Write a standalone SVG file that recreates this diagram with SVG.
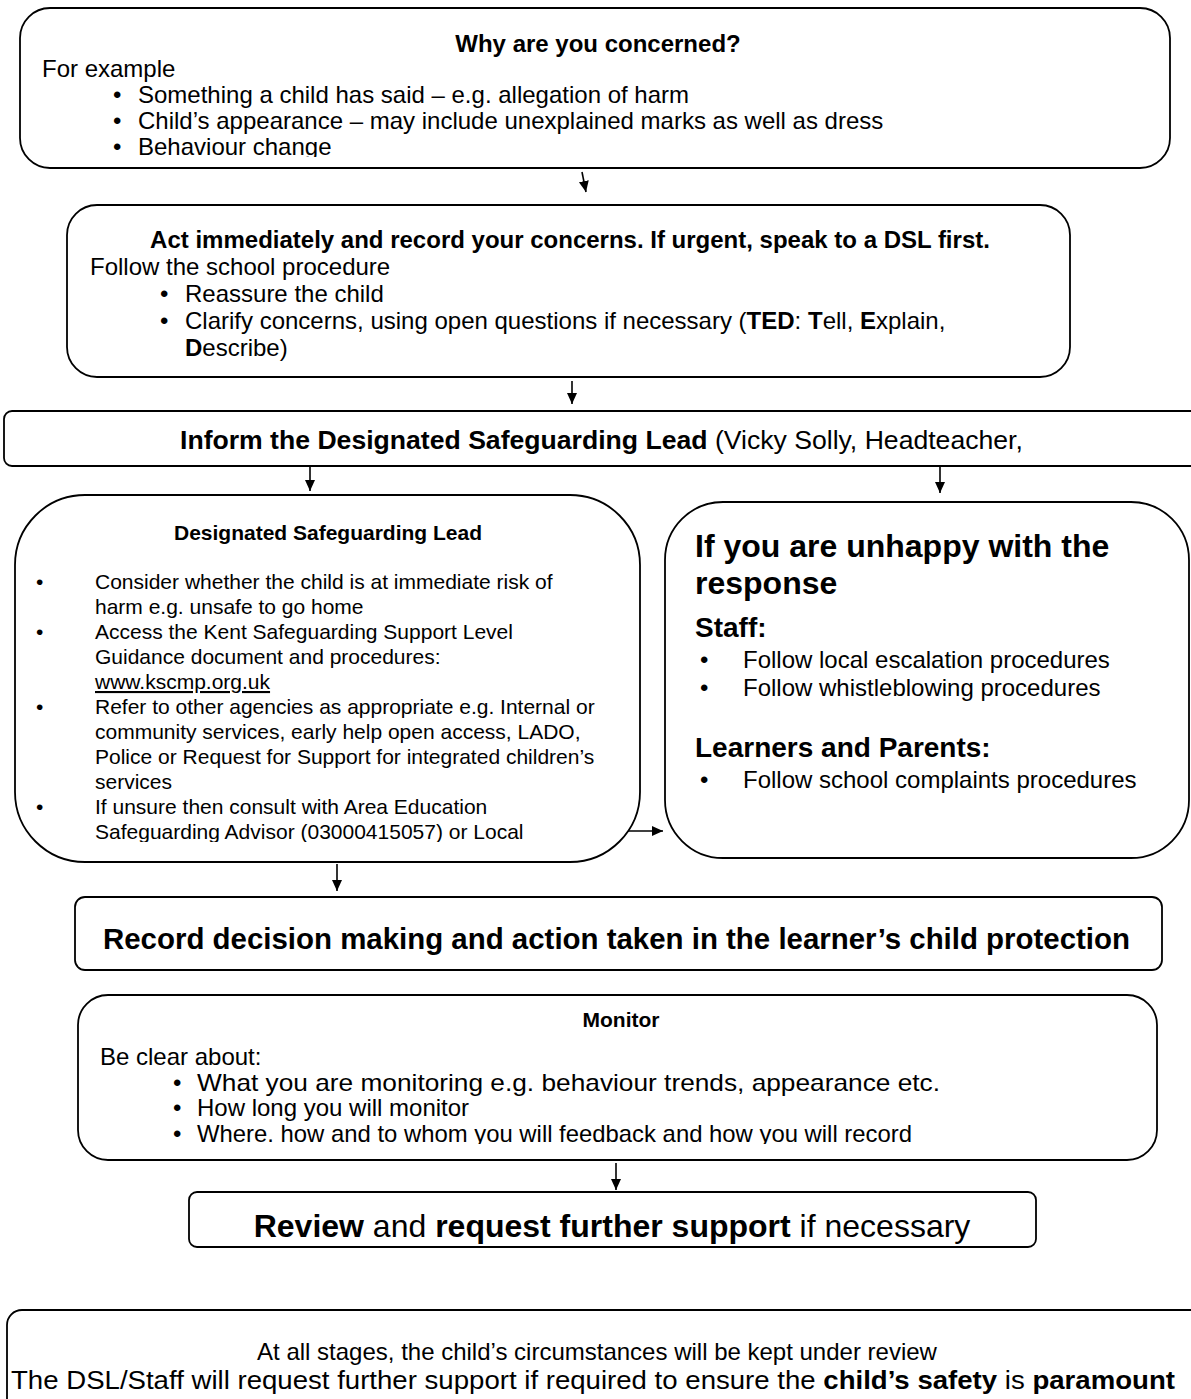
<svg xmlns="http://www.w3.org/2000/svg" width="1191" height="1399" viewBox="0 0 1191 1399">
<style>
.box{fill:#fff;stroke:#000;stroke-width:1.8}
text{font-family:"Liberation Sans",Arial,sans-serif;fill:#000}
.b{font-weight:bold}
.s24{font-size:24px}
.s21{font-size:21px}
.conn line{stroke:#000;stroke-width:1.6;marker-end:url(#ah)}
</style>
<defs>
<marker id="ah" markerWidth="12" markerHeight="12" refX="11" refY="5" orient="auto" markerUnits="userSpaceOnUse"><path d="M0,0 L11,5 L0,10 z" fill="#000"/></marker>
<clipPath id="c1"><rect x="0" y="0" width="1191" height="157"/></clipPath>
<clipPath id="c2"><rect x="0" y="200" width="1191" height="162"/></clipPath>
<clipPath id="c3"><rect x="0" y="490" width="660" height="352"/></clipPath>
<clipPath id="c4"><rect x="0" y="990" width="1191" height="154"/></clipPath>
</defs>

<g id="connectors" class="conn">
<line x1="582" y1="172" x2="586" y2="192"/>
<line x1="572" y1="381" x2="572" y2="404"/>
<line x1="310" y1="467" x2="310" y2="491"/>
<line x1="940" y1="467" x2="940" y2="493"/>
<line x1="620" y1="831" x2="663" y2="831"/>
<line x1="337" y1="864" x2="337" y2="891"/>
<line x1="616" y1="1163" x2="616" y2="1190"/>
</g>

<g id="concerned">
<rect class="box" x="20" y="8" width="1150" height="160" rx="30"/>
<text class="b s24" x="598" y="52" text-anchor="middle">Why are you concerned?</text>
<g clip-path="url(#c1)">
<text class="s24" x="42" y="77">For example</text>
<text class="s24" x="113" y="103">•</text><text class="s24" x="138" y="103">Something a child has said – e.g. allegation of harm</text>
<text class="s24" x="113" y="129">•</text><text class="s24" x="138" y="129">Child’s appearance – may include unexplained marks as well as dress</text>
<text class="s24" x="113" y="155">•</text><text class="s24" x="138" y="155">Behaviour change</text>
</g>
</g>

<g id="act">
<rect class="box" x="67" y="205" width="1003" height="172" rx="30"/>
<g clip-path="url(#c2)">
<text class="b s24" x="570" y="248" text-anchor="middle">Act immediately and record your concerns. If urgent, speak to a DSL first.</text>
<text class="s24" x="90" y="275">Follow the school procedure</text>
<text class="s24" x="160" y="302">•</text><text class="s24" x="185" y="302">Reassure the child</text>
<text class="s24" x="160" y="329">•</text><text class="s24" x="185" y="329">Clarify concerns, using open questions if necessary (<tspan class="b">TED</tspan>: <tspan class="b">T</tspan>ell, <tspan class="b">E</tspan>xplain,</text>
<text class="s24" x="185" y="356"><tspan class="b">D</tspan>escribe)</text>
</g>
</g>

<g id="inform">
<rect class="box" x="4" y="411" width="1200" height="55" rx="8"/>
<text x="180" y="449" style="font-size:26.6px"><tspan class="b">Inform the Designated Safeguarding Lead</tspan> (Vicky Solly, Headteacher,</text>
</g>

<g id="dsl">
<rect class="box" x="15" y="495" width="625" height="367" rx="70"/>
<text class="b s21" x="328" y="540" text-anchor="middle">Designated Safeguarding Lead</text>
<g clip-path="url(#c3)">
<text class="s21" x="36" y="589">•</text><text class="s21" x="95" y="589">Consider whether the child is at immediate risk of</text>
<text class="s21" x="95" y="614">harm e.g. unsafe to go home</text>
<text class="s21" x="36" y="639">•</text><text class="s21" x="95" y="639">Access the Kent Safeguarding Support Level</text>
<text class="s21" x="95" y="664">Guidance document and procedures:</text>
<text class="s21" x="95" y="689" text-decoration="underline">www.kscmp.org.uk</text>
<text class="s21" x="36" y="714">•</text><text class="s21" x="95" y="714">Refer to other agencies as appropriate e.g. Internal or</text>
<text class="s21" x="95" y="739">community services, early help open access, LADO,</text>
<text class="s21" x="95" y="764">Police or Request for Support for integrated children’s</text>
<text class="s21" x="95" y="789">services</text>
<text class="s21" x="36" y="814">•</text><text class="s21" x="95" y="814">If unsure then consult with Area Education</text>
<text class="s21" x="95" y="839">Safeguarding Advisor (03000415057) or Local</text>
</g>
</g>

<g id="unhappy">
<rect class="box" x="665" y="502" width="524" height="356" rx="58"/>
<text class="b" x="695" y="557" style="font-size:32px">If you are unhappy with the</text>
<text class="b" x="695" y="594" style="font-size:32px">response</text>
<text class="b" x="695" y="637" style="font-size:28px">Staff:</text>
<text class="s24" x="700" y="668">•</text><text class="s24" x="743" y="668">Follow local escalation procedures</text>
<text class="s24" x="700" y="696">•</text><text class="s24" x="743" y="696">Follow whistleblowing procedures</text>
<text class="b" x="695" y="757" style="font-size:28px">Learners and Parents:</text>
<text class="s24" x="700" y="788">•</text><text class="s24" x="743" y="788">Follow school complaints procedures</text>
</g>

<g id="record">
<rect class="box" x="75" y="897" width="1087" height="73" rx="10"/>
<text class="b" x="103" y="949" textLength="1027" lengthAdjust="spacingAndGlyphs" style="font-size:29.5px">Record decision making and action taken in the learner’s child protection</text>
</g>

<g id="monitor">
<rect class="box" x="78" y="995" width="1079" height="165" rx="30"/>
<text class="b s21" x="621" y="1027" text-anchor="middle">Monitor</text>
<g clip-path="url(#c4)">
<text class="s24" x="100" y="1065">Be clear about:</text>
<text class="s24" x="173" y="1091">•</text><text class="s24" x="197" y="1091" textLength="743" lengthAdjust="spacingAndGlyphs">What you are monitoring e.g. behaviour trends, appearance etc.</text>
<text class="s24" x="173" y="1116">•</text><text class="s24" x="197" y="1116">How long you will monitor</text>
<text class="s24" x="173" y="1142">•</text><text class="s24" x="197" y="1142" textLength="715" lengthAdjust="spacingAndGlyphs">Where. how and to whom you will feedback and how you will record</text>
</g>
</g>

<g id="review">
<rect class="box" x="189" y="1192" width="847" height="55" rx="8"/>
<text x="612" y="1237" text-anchor="middle" style="font-size:32px"><tspan class="b">Review</tspan> and <tspan class="b">request further support</tspan> if necessary</text>
</g>

<g id="stages">
<rect class="box" x="7" y="1310" width="1200" height="110" rx="15"/>
<text class="s24" x="597" y="1360" text-anchor="middle">At all stages, the child’s circumstances will be kept under review</text>
<text x="11" y="1389" textLength="1164" lengthAdjust="spacingAndGlyphs" style="font-size:25px">The DSL/Staff will request further support if required to ensure the <tspan class="b">child’s safety</tspan> is <tspan class="b">paramount</tspan></text>
</g>
</svg>
